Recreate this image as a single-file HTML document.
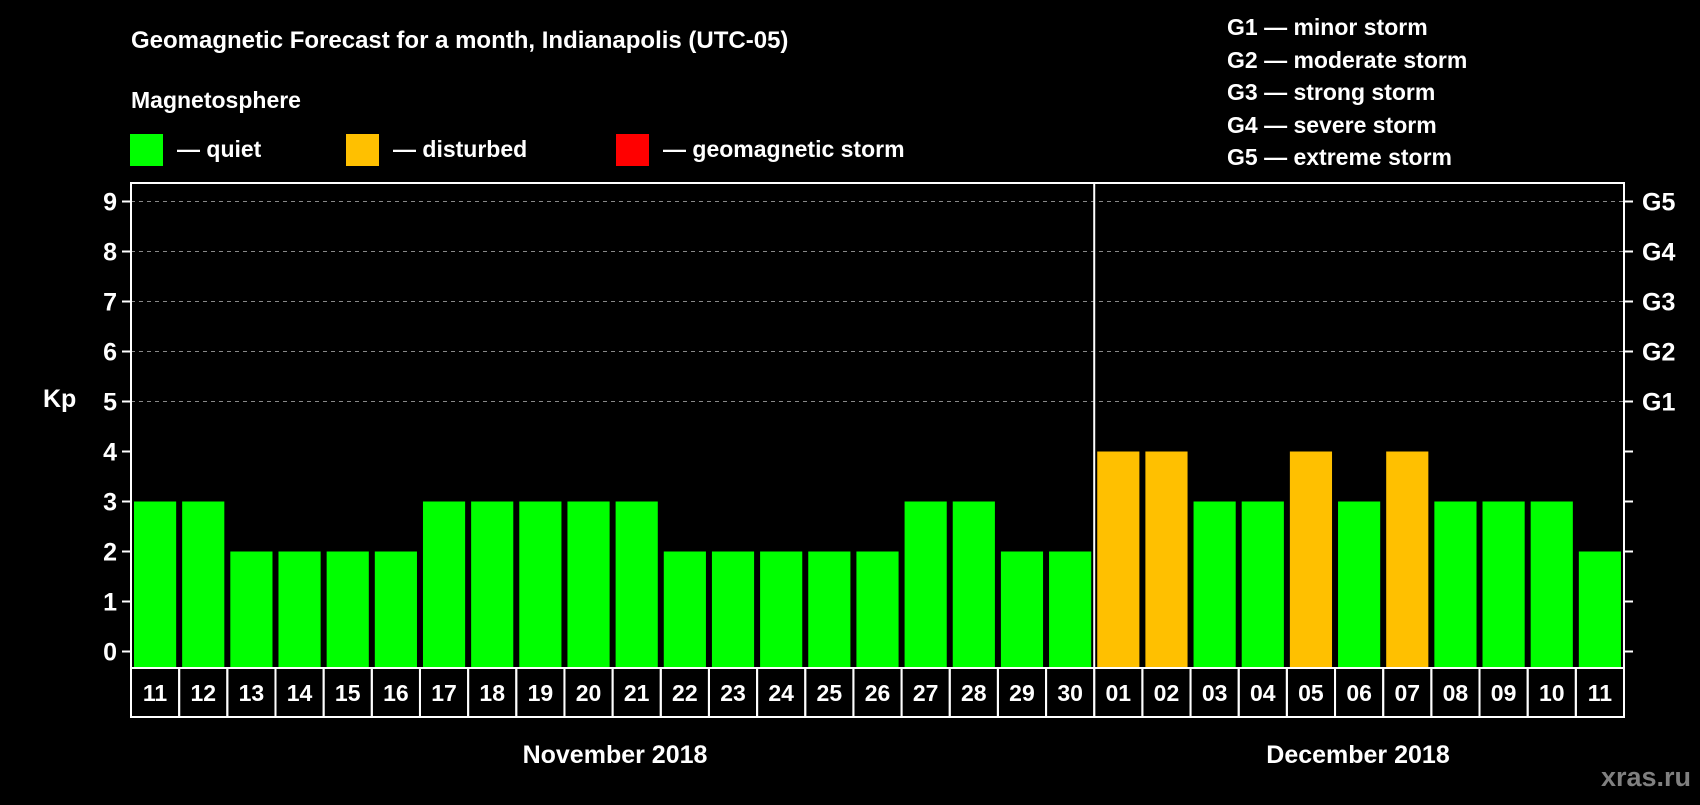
<!DOCTYPE html>
<html><head><meta charset="utf-8"><style>
body{margin:0;background:#000;}
svg text{font-family:"Liberation Sans",Arial,sans-serif;font-weight:bold;fill:#fff;}
</style></head><body>
<svg width="1700" height="800" viewBox="0 0 1700 800">
<rect width="1700" height="800" fill="#000"/>
<text x="131" y="48" font-size="24">Geomagnetic Forecast for a month, Indianapolis (UTC-05)</text>
<text x="131" y="108" font-size="23">Magnetosphere</text>
<g><rect x="130" y="134" width="33" height="32" fill="#00ff00"/><text x="177" y="157" font-size="23">— quiet</text></g>
<g><rect x="346" y="134" width="33" height="32" fill="#ffc000"/><text x="393" y="157" font-size="23">— disturbed</text></g>
<g><rect x="616" y="134" width="33" height="32" fill="#ff0000"/><text x="663" y="157" font-size="23">— geomagnetic storm</text></g>
<g font-size="23">
<text x="1227" y="35">G1 — minor storm</text>
<text x="1227" y="68">G2 — moderate storm</text>
<text x="1227" y="100">G3 — strong storm</text>
<text x="1227" y="133">G4 — severe storm</text>
<text x="1227" y="165">G5 — extreme storm</text>
</g>
<text x="43" y="407" font-size="25">Kp</text>
<g id="plot"></g>
<text x="615" y="763" font-size="25" text-anchor="middle">November 2018</text>
<text x="1358" y="763" font-size="25" text-anchor="middle">December 2018</text>
<text x="1691" y="786" font-size="27" text-anchor="end" style="fill:#808080">xras.ru</text>
</svg>
<script>
const days=["11","12","13","14","15","16","17","18","19","20","21","22","23","24","25","26","27","28","29","30","01","02","03","04","05","06","07","08","09","10","11"];
const kp=[3,3,2,2,2,2,3,3,3,3,3,2,2,2,2,2,3,3,2,2,4,4,3,3,4,3,4,3,3,3,2];
const yTicks=[0,1,2,3,4,5,6,7,8,9];
const gLabels=["G1","G2","G3","G4","G5"];
const NS="http://www.w3.org/2000/svg";
const L=131,R=1624,T=183,B=668;
const cw=(R-L)/days.length;
const y=v=>651.5-v*50;
const x=i=>L+i*cw;
const g=document.getElementById('plot');
function mk(t,a,p){const e=document.createElementNS(NS,t);for(const k in a)e.setAttribute(k,a[k]);(p||g).appendChild(e);return e;}
yTicks.forEach(v=>{
  if(v>=5){const l=mk('line',{x1:L,x2:R,y1:y(v),y2:y(v),stroke:'#888','stroke-width':1,'stroke-dasharray':'4,4'});
  
  }
  mk('line',{x1:L-9,x2:L,y1:y(v),y2:y(v),stroke:'#fff','stroke-width':2});
  mk('line',{x1:R,x2:R+9,y1:y(v),y2:y(v),stroke:'#fff','stroke-width':2});
  const t=mk('text',{x:117,y:y(v)+9,'font-size':25,'text-anchor':'end'});t.textContent=v;
  
  
  if(v>=5){const s=mk('text',{x:1642,y:y(v)+9,'font-size':25});s.textContent=gLabels[v-5];
  
  }
});
kp.forEach((v,i)=>{
  const r=mk('rect',{x:x(i)+3,y:y(v),width:cw-6,height:B-y(v),fill:v>=5?'#ff0000':v>=4?'#ffc000':'#00ff00'});
  
  
});
mk('rect',{x:L,y:T,width:R-L,height:B-T,fill:'none',stroke:'#fff','stroke-width':2});
mk('line',{x1:x(20),x2:x(20),y1:T,y2:B,stroke:'#fff','stroke-width':2});
days.forEach((d,i)=>{
  mk('rect',{x:x(i),y:B,width:cw,height:49,fill:'none',stroke:'#fff','stroke-width':2});
  const t=mk('text',{x:x(i)+cw/2,y:701,'font-size':23,'text-anchor':'middle'});t.textContent=d;
  
  
});
</script>
</body></html>
